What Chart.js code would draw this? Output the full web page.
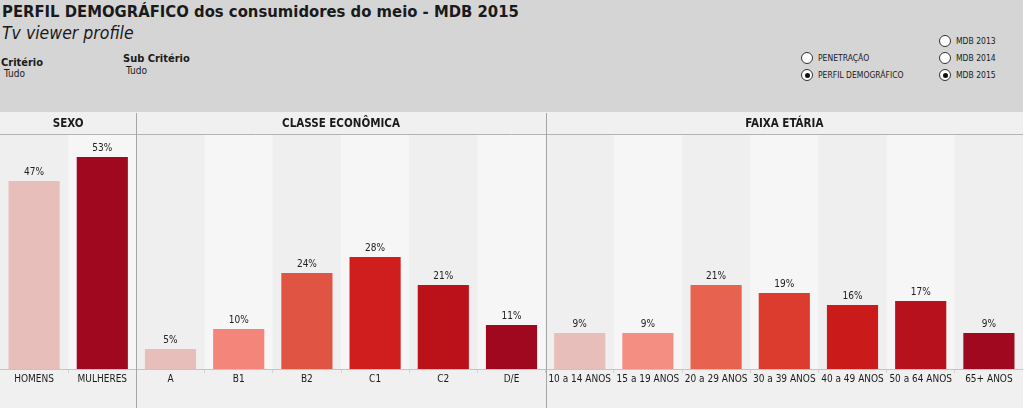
<!DOCTYPE html>
<html>
<head>
<meta charset="utf-8">
<script src="https://cdn.jsdelivr.net/npm/chart.js@4/dist/chart.umd.min.js"></script>
<style>
    html, body { margin: 0; padding: 0; }
    body { width: 1023px; height: 408px; position: relative; overflow: hidden; background: #f0f0f0; font-family: "DejaVu Sans Condensed", "DejaVu Sans", sans-serif; color: #1a1a1a; }
    #top { position: absolute; left: 0; top: 0; width: 1023px; height: 112px; background: #d5d5d5; }
    .abs { position: absolute; white-space: nowrap; }
    #title { left: 2px; top: 2px; font-size: 16.5px; font-weight: bold; }
    #subtitle { left: 2px; top: 23px; font-size: 17.5px; font-style: italic; }
    .crit { font-size: 11px; font-weight: bold; }
    .tudo { font-size: 10px; }
    .radio { font-size: 8.5px; display: flex; align-items: center; }
    .radio i { display: inline-block; width: 10px; height: 10px; border: 1px solid #333; border-radius: 50%; background: #fff; margin-right: 5px; position: relative; }
    .radio i.on::after { content: ""; position: absolute; left: 2.5px; top: 2.5px; width: 5px; height: 5px; border-radius: 50%; background: #111; }
    #chartWrap { position: absolute; left: 0; top: 113px; width: 1023px; height: 295px; }
</style>
</head>
<body>
<div id="top">
    <div id="title" class="abs">PERFIL DEMOGRÁFICO dos consumidores do meio - MDB 2015</div>
    <div id="subtitle" class="abs">Tv viewer profile</div>
    <div class="abs crit" style="left:1px; top:56px;">Critério</div>
    <div class="abs tudo" style="left:4px; top:68px;">Tudo</div>
    <div class="abs crit" style="left:123px; top:52px;">Sub Critério</div>
    <div class="abs tudo" style="left:126px; top:65px;">Tudo</div>
    <div class="abs radio" style="left:801px; top:52px;"><i></i>PENETRAÇÃO</div>
    <div class="abs radio" style="left:801px; top:69px;"><i class="on"></i>PERFIL DEMOGRÁFICO</div>
    <div class="abs radio" style="left:939px; top:35px;"><i></i>MDB 2013</div>
    <div class="abs radio" style="left:939px; top:52px;"><i></i>MDB 2014</div>
    <div class="abs radio" style="left:939px; top:69px;"><i class="on"></i>MDB 2015</div>
</div>
<div id="chartWrap"><canvas id="perfilChart" width="1023" height="295"></canvas></div>
<script>
const panelNames = ["SEXO", "CLASSE ECONÔMICA", "FAIXA ETÁRIA"];
const sexoLabels = ["HOMENS", "MULHERES"];
const sexoValues = [47, 53];
const classeLabels = ["A", "B1", "B2", "C1", "C2", "D/E"];
const classeValues = [5, 10, 24, 28, 21, 11];
const faixaLabels = ["10 a 14 ANOS", "15 a 19 ANOS", "20 a 29 ANOS", "30 a 39 ANOS", "40 a 49 ANOS", "50 a 64 ANOS", "65+ ANOS"];
const faixaValues = [9, 9, 21, 19, 16, 17, 9];

const sexoColors = ["#e8bebb", "#a0081f"];
const classeColors = ["#e8bebb", "#f4857a", "#e05443", "#d01e1e", "#bb1119", "#a0081f"];
const faixaColors = ["#e8bebb", "#f48e82", "#e86250", "#dc3c2d", "#cb1a1a", "#b6111c", "#a0081f"];

const panelSizes = [sexoLabels.length, classeLabels.length, faixaLabels.length];
const labels = [...sexoLabels, ...classeLabels, ...faixaLabels];
const values = [...sexoValues, ...classeValues, ...faixaValues];
const colors = [...sexoColors, ...classeColors, ...faixaColors];

const FONT = "'DejaVu Sans Condensed', 'DejaVu Sans', sans-serif";

// column backgrounds, panel header row and dividers
const panelPlugin = {
    id: "panels",
    beforeDraw(chart) {
        const { ctx, chartArea, scales } = chart;
        const x = scales.x;
        const half = (x.getPixelForValue(1) - x.getPixelForValue(0)) / 2;
        ctx.save();
        ctx.fillStyle = "#f0f0f0";
        ctx.fillRect(0, 0, chart.width, chart.height);

        let start = 0;
        panelSizes.forEach((size) => {
            for (let i = 0; i < size; i++) {
                const c = x.getPixelForValue(start + i);
                ctx.fillStyle = i % 2 === 0 ? "#efefef" : "#f6f6f6";
                ctx.fillRect(c - half, chartArea.top, half * 2, chartArea.bottom - chartArea.top);
            }
            start += size;
        });
        ctx.restore();
    },
    afterDraw(chart) {
        const { ctx, chartArea, scales } = chart;
        const x = scales.x;
        const half = (x.getPixelForValue(1) - x.getPixelForValue(0)) / 2;
        ctx.save();
        // header bottom border
        ctx.strokeStyle = "#b4b4b4";
        ctx.lineWidth = 1;
        ctx.beginPath();
        ctx.moveTo(0, chartArea.top - 0.5);
        ctx.lineTo(chart.width, chartArea.top - 0.5);
        ctx.stroke();

        let start = 0;
        panelSizes.forEach((size, p) => {
            const left = x.getPixelForValue(start) - half;
            const right = x.getPixelForValue(start + size - 1) + half;
            ctx.fillStyle = "#1a1a1a";
            ctx.font = "bold 11.5px " + FONT;
            ctx.textAlign = "center";
            ctx.textBaseline = "middle";
            ctx.fillText(panelNames[p], (left + right) / 2, chartArea.top / 2 + 0.5);
            if (p > 0) {
                ctx.strokeStyle = "#a6a6a6";
                ctx.beginPath();
                ctx.moveTo(Math.round(left) + 0.5, 0);
                ctx.lineTo(Math.round(left) + 0.5, chart.height);
                ctx.stroke();
            }
            start += size;
        });
        ctx.restore();
    },
    afterDatasetsDraw(chart) {
        const { ctx } = chart;
        const meta = chart.getDatasetMeta(0);
        ctx.save();
        ctx.fillStyle = "#222";
        ctx.font = "10px " + FONT;
        ctx.textAlign = "center";
        ctx.textBaseline = "bottom";
        meta.data.forEach((bar, i) => {
            ctx.fillText(values[i] + "%", bar.x, bar.y - 4);
        });
        ctx.restore();
    }
};

new Chart(document.getElementById("perfilChart"), {
    type: "bar",
    data: {
        labels: labels,
        datasets: [{
            data: values,
            backgroundColor: colors,
            borderWidth: 0,
            barPercentage: 0.75,
            categoryPercentage: 1
        }]
    },
    options: {
        responsive: false,
        animation: false,
        events: [],
        layout: { padding: { top: 22, left: 0, right: 0, bottom: 0 } },
        plugins: {
            legend: { display: false },
            tooltip: { enabled: false }
        },
        scales: {
            x: {
                offset: true,
                afterFit: (scale) => { scale.height = 39; },
                grid: {
                    offset: true,
                    drawOnChartArea: false,
                    tickLength: 4,
                    color: "#d4d4d4"
                },
                border: { color: "#c4c4c4" },
                ticks: {
                    color: "#1a1a1a",
                    font: { family: FONT, size: 10 },
                    padding: 0,
                    maxRotation: 0,
                    autoSkip: false
                }
            },
            y: {
                display: false,
                min: 0,
                max: 58.5
            }
        }
    },
    plugins: [panelPlugin]
});
</script>
</body>
</html>
